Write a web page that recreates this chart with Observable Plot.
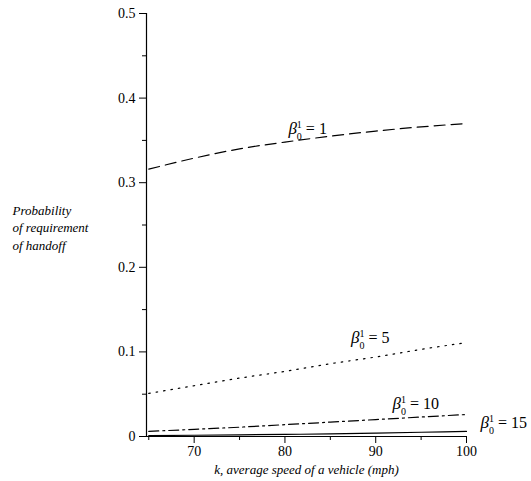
<!DOCTYPE html>
<html><head><meta charset="utf-8">
<script src="https://cdn.jsdelivr.net/npm/d3@7"></script>
<script src="https://cdn.jsdelivr.net/npm/@observablehq/plot@0.6"></script>
<style>
body{margin:0;background:#fff}
</style>
</head><body><div id="chart"></div>
<script>
const speeds = [65, 70, 75, 80, 85, 90, 95, 100];
const beta1 = [0.316, 0.329, 0.340, 0.348, 0.355, 0.361, 0.366, 0.370];
const beta5 = [0.051, 0.060, 0.069, 0.077, 0.086, 0.094, 0.103, 0.111];
const beta10 = [0.006, 0.0085, 0.011, 0.014, 0.017, 0.020, 0.023, 0.026];
const beta15 = [0.001, 0.0015, 0.002, 0.0025, 0.003, 0.004, 0.005, 0.006];
const betaValues = ["1", "5", "10", "15"];
const labelX = [82.5, 89.4, 94.4, 104.1];
const labelY = [0.364, 0.116, 0.039, 0.0165];
const yTicks = [0, 0.1, 0.2, 0.3, 0.4, 0.5];
const yMinor = [0.05, 0.15, 0.25, 0.35, 0.45];
const xTicks = [70, 80, 90, 100];
const xMinor = [65, 75, 85, 95];
const xDomain = [64.75, 100];
const yDomain = [0, 0.5];
const yLabelLines = ["Probability", "of requirement", "of handoff"];
const xLabel = "k, average speed of a vehicle (mph)";

const FONT = "'Liberation Serif', 'Times New Roman', Times, 'DejaVu Serif', serif";
const series = [beta1, beta5, beta10, beta15].map(vals => speeds.map((s, i) => ({x: s, y: vals[i]})));
const dashes = ["11,6", "1.5,6", "10,4,2,4", null];
const labels = betaValues.map((b, i) => ({b, x: labelX[i], y: labelY[i]}));

const chart = Plot.plot({
  width: 531, height: 481,
  marginLeft: 146, marginRight: 65, marginTop: 13, marginBottom: 45,
  x: {domain: xDomain},
  y: {domain: yDomain},
  style: {fontSize: "13px", color: "black", background: "white"},
  marks: [
    Plot.ruleX([xDomain[0]], {stroke: "black", strokeWidth: 1.2}),
    Plot.ruleY([0], {stroke: "black", strokeWidth: 1.2}),
    Plot.axisY(yTicks, {tickSize: 7, tickPadding: 4, label: null, tickFormat: d => String(d), fontSize: 14}),
    Plot.axisY(yMinor, {tickSize: 4, label: null, tickFormat: () => ""}),
    Plot.axisX(xTicks, {tickSize: 7, tickPadding: 3, label: null, fontSize: 14}),
    Plot.axisX(xMinor, {tickSize: 4, label: null, tickFormat: () => ""}),
    ...series.map((d, i) => Plot.line(d, {x: "x", y: "y", stroke: "black", strokeWidth: 1.2, strokeDasharray: dashes[i], curve: "monotone-x"})),
    Plot.text(labels, {x: "x", y: "y", text: "b", textAnchor: "middle", fontSize: 16}),
    Plot.text([yLabelLines.join("\n")], {frameAnchor: "left", dx: -134, dy: 1.5, textAnchor: "start", lineHeight: 1.35, fontStyle: "italic", fontSize: 13}),
    Plot.text([xLabel], {frameAnchor: "bottom", dy: 37, fontStyle: "italic", fontSize: 13})
  ]
});

chart.setAttribute("font-family", FONT);
chart.style.fontFamily = FONT;
chart.querySelectorAll("g, text").forEach(el => { el.removeAttribute("font-family"); el.style.fontFamily = FONT; });

d3.select(chart).selectAll('g[aria-label="text"] text').each(function() {
  const t = d3.select(this);
  const v = t.text();
  if (!betaValues.includes(v) || this.querySelector("tspan")) return;
  t.text("");
  t.append("tspan").attr("font-style", "italic").attr("font-size", 17).text("β");
  t.append("tspan").attr("font-size", 10).attr("dy", -6).text("1");
  t.append("tspan").attr("font-size", 10).attr("dx", -5).attr("dy", 12).text("0");
  t.append("tspan").attr("dy", -6).text(" = " + v);
});

document.getElementById("chart").appendChild(chart);
</script>
</body></html>
